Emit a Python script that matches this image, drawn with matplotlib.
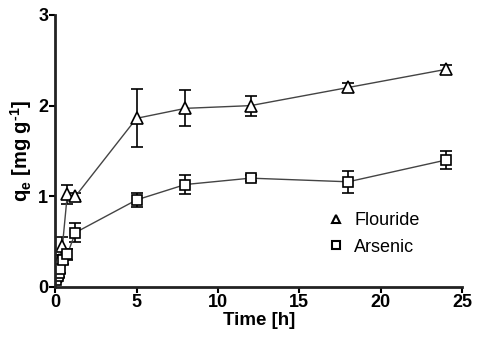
import matplotlib
matplotlib.use("Agg")
import matplotlib.pyplot as plt
from matplotlib.lines import Line2D

plt.rcParams['font.family'] = ['Liberation Sans', 'DejaVu Sans']
plt.rcParams['mathtext.fontset'] = 'custom'
plt.rcParams['mathtext.rm'] = 'Liberation Sans:bold'
plt.rcParams['mathtext.bf'] = 'Liberation Sans:bold'
plt.rcParams['mathtext.it'] = 'Liberation Sans:bold'

time_f = [0.08, 0.17, 0.25, 0.45, 0.75, 1.25, 5, 8, 12, 18, 24]
flouride = [0.12, 0.22, 0.3, 0.45, 1.02, 1.0, 1.86, 1.97, 2.0, 2.2, 2.4]
flouride_err = [0.03, 0.04, 0.05, 0.1, 0.1, 0.04, 0.32, 0.2, 0.11, 0.05, 0.05]

time_a = [0.08, 0.17, 0.25, 0.33, 0.5, 0.75, 1.25, 5, 8, 12, 18, 24]
arsenic = [0.08, 0.12, 0.15, 0.2, 0.3, 0.36, 0.6, 0.96, 1.13, 1.2, 1.16, 1.4]
arsenic_err = [0.03, 0.03, 0.04, 0.05, 0.05, 0.06, 0.1, 0.08, 0.1, 0.03, 0.12, 0.1]

fig = plt.figure(figsize=(4.79, 3.40), dpi=100)
ax = fig.add_axes([0.115, 0.156, 0.85, 0.80])

ax.errorbar(time_f, flouride, yerr=flouride_err, marker='^', markersize=8,
            mfc='white', mec='black', mew=1.2, color='#444444', lw=1.0,
            ecolor='black', elinewidth=1.2, capsize=4, capthick=1.2)
ax.errorbar(time_a, arsenic, yerr=arsenic_err, marker='s', markersize=6.5,
            mfc='white', mec='black', mew=1.2, color='#444444', lw=1.0,
            ecolor='black', elinewidth=1.2, capsize=4, capthick=1.2)

ax.set_xlim(0, 25)
ax.set_ylim(0, 3)
ax.set_xticks([0, 5, 10, 15, 20, 25])
ax.set_yticks([0, 1, 2, 3])
for s in ['top', 'right']:
    ax.spines[s].set_visible(False)
for s in ['left', 'bottom']:
    ax.spines[s].set_linewidth(2)
    ax.spines[s].set_color('#222222')
ax.tick_params(axis='both', width=1.5, length=4, labelsize=13, pad=1)
for lab in ax.get_xticklabels() + ax.get_yticklabels():
    lab.set_fontweight('bold')

ax.set_xlabel('Time [h]', fontsize=13.5, fontweight='bold', labelpad=1)
ax.set_ylabel(r'q$_{\mathrm{e}}$ [mg g$^{\text{-1}}$]', fontsize=14.5, fontweight='bold', labelpad=3)

handles = [Line2D([], [], marker='^', ls='none', mfc='white', mec='black', mew=1.5, markersize=6),
           Line2D([], [], marker='s', ls='none', mfc='white', mec='black', mew=1.5, markersize=5.5)]
ax.legend(handles, ['Flouride', 'Arsenic'], loc='lower right', bbox_to_anchor=(0.935, 0.055),
          frameon=False, fontsize=13, handlelength=0.6, handletextpad=0.7, labelspacing=0.55)

fig.savefig('out.png', dpi=100)
